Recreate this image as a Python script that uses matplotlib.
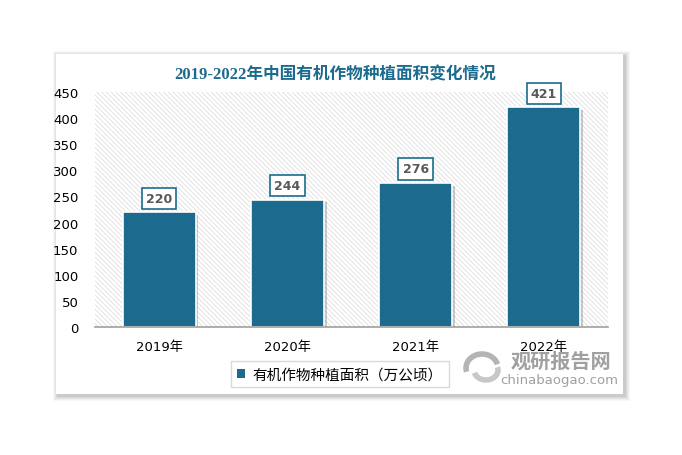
import matplotlib.pyplot as plt
import matplotlib.patheffects as pe
from matplotlib.patches import Rectangle, Arc

plt.rcParams['font.family'] = ['DejaVu Sans', 'Noto Sans CJK SC']
plt.rcParams['hatch.linewidth'] = 0.5
plt.rcParams['hatch.color'] = '#d8d8d8'

years = ['2019年', '2020年', '2021年', '2022年']
area = [220, 244, 276, 421]

bar_color = '#1c6b8e'
W, H = 682, 456

fig = plt.figure(figsize=(W / 100, H / 100), dpi=100, facecolor='white')

# white card with soft shadow
cx0, cy0, cx1, cy1 = 56, 55, 623, 395
for i, a in enumerate([0.03, 0.035, 0.04, 0.05, 0.06]):
    g = 5 - i
    fig.patches.append(Rectangle(((cx0 - g + 2) / W, 1 - (cy1 + g + 2) / H),
                                 (cx1 - cx0 + 2 * g) / W, (cy1 - cy0 + 2 * g) / H,
                                 transform=fig.transFigure, facecolor='black',
                                 edgecolor='none', alpha=a, zorder=0))
fig.patches.append(Rectangle((cx0 / W, 1 - cy1 / H), (cx1 - cx0) / W, (cy1 - cy0) / H,
                             transform=fig.transFigure, facecolor='white',
                             edgecolor='none', zorder=0.5))

ax = fig.add_axes([95 / W, 1 - 328 / H, 513 / W, 235 / H])
ax.set_zorder(1)
ax.patch.set_facecolor('white')
ax.patch.set_hatch('\\' * 7)
ax.patch.set_edgecolor('#d8d8d8')
ax.patch.set_linewidth(0)

x = range(len(years))
bars = ax.bar(x, area, width=0.57, color=bar_color, edgecolor='white', linewidth=1.2, zorder=3)
for b in bars:
    b.set_path_effects([pe.SimplePatchShadow(offset=(2, -2), shadow_rgbFace='black', alpha=0.2),
                        pe.Normal()])

for xi, v in zip(x, area):
    ax.annotate(str(v), (xi, v), xytext=(0, 10), textcoords='offset points',
                ha='center', va='center', fontsize=9, fontweight='bold', color='#595959',
                bbox=dict(boxstyle='square,pad=0.33', facecolor='white', edgecolor=bar_color, linewidth=1.2),
                zorder=5)

ax.set_xlim(-0.5, 3.5)
ax.set_ylim(0, 450)
ax.set_yticks(range(0, 451, 50))
ax.set_xticks(list(x))
ax.set_xticklabels(years)
ax.tick_params(axis='both', length=0, labelsize=9.5, colors='black')
ax.tick_params(axis='x', pad=9)
ax.tick_params(axis='y', pad=12)
for s in ['top', 'right', 'left']:
    ax.spines[s].set_visible(False)
ax.spines['bottom'].set_color('#a0a0a0')
ax.spines['bottom'].set_linewidth(1.2)
ax.spines['bottom'].set_zorder(4)

fig.text(335 / W, 1 - 75 / H, '2019-2022年中国有机作物种植面积变化情况',
         ha='center', va='center', fontsize=12, fontweight='bold', color='#1c6b8e',
         family=['Liberation Serif', 'Noto Sans CJK SC'])

# legend
leg_h = [Rectangle((0, 0), 1, 1, facecolor=bar_color, edgecolor='none')]
leg = fig.legend(leg_h, ['有机作物种植面积（万公顷）'], loc='center',
                 bbox_to_anchor=(340 / W, 1 - 375 / H), frameon=True, fancybox=False,
                 handlelength=0.55, handleheight=0.55, handletextpad=0.5,
                 fontsize=10.5, borderpad=0.4, borderaxespad=0)
leg.get_frame().set_edgecolor('#d0d0d0')
leg.get_frame().set_linewidth(1)
leg.set_zorder(3)

# watermark
fig.text(561 / W, 1 - 362 / H, '观研报告网', ha='center', va='center',
         fontsize=14.5, fontweight='bold', color='#a0a0a0', zorder=0.8)
fig.text(559 / W, 1 - 381 / H, 'chinabaogao.com', ha='center', va='center',
         fontsize=9.5, color='#a0a0a0', zorder=0.8)
lx, ly = 482 / W, 1 - 369 / H
fig.patches.append(Arc((lx, ly), 32 / W, 28 / H, theta1=20, theta2=200,
                       transform=fig.transFigure, color='#b4b4b4', linewidth=4, zorder=0.8))
fig.patches.append(Arc((lx + 4 / W, ly - 2 / H), 24 / W, 20 / H, theta1=200, theta2=380,
                       transform=fig.transFigure, color='#c8c8c8', linewidth=4, zorder=0.8))

fig.savefig('out.png', dpi=100, facecolor='white')
